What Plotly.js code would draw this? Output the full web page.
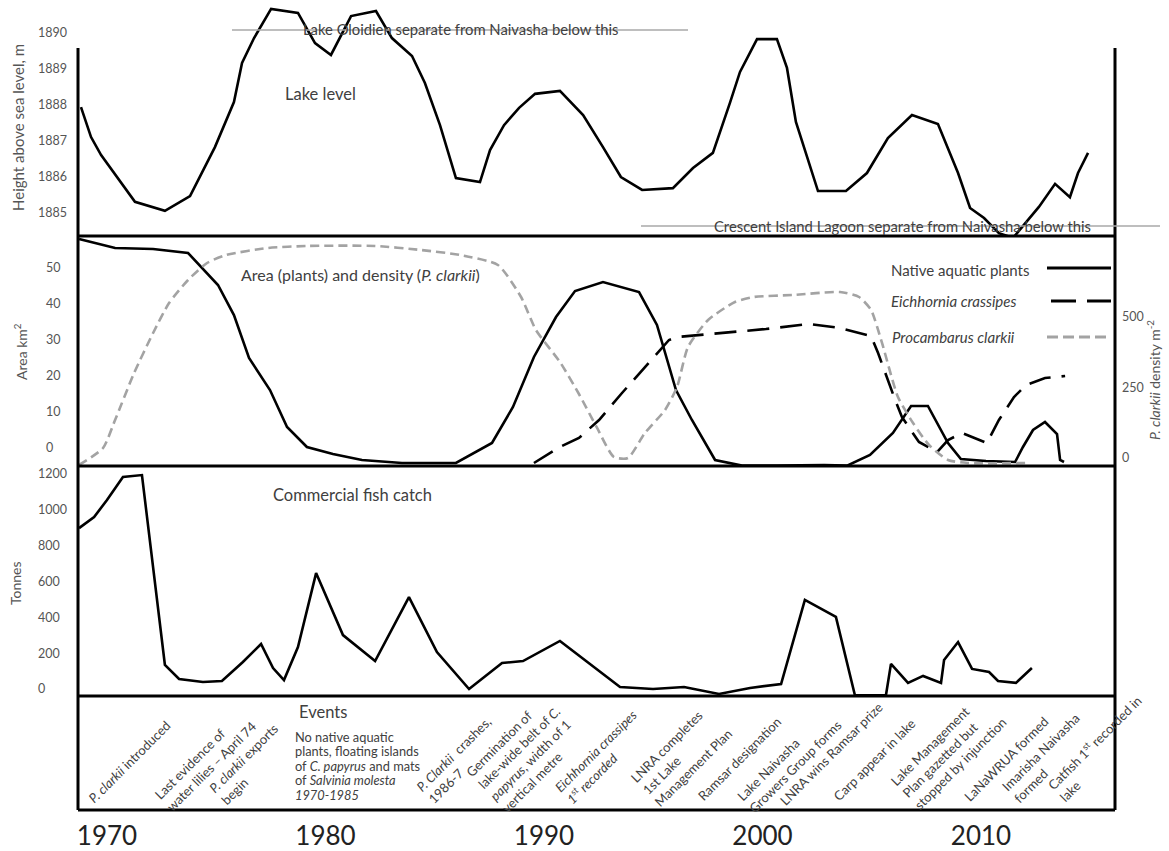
<!DOCTYPE html>
<html><head><meta charset="utf-8">
<script src="https://cdn.plot.ly/plotly-3.0.1.min.js"></script>
<style>html,body{margin:0;padding:0;background:#fff}#chart{width:1169px;height:851px}</style>
</head><body><div id="chart"></div>
<script>
// ---------------- DATA ----------------
const yearTicks = [1970, 1980, 1990, 2000, 2010];
const lakeTicks = [1885, 1886, 1887, 1888, 1889, 1890];
const areaTicks = [0, 10, 20, 30, 40, 50];
const densityTicks = [0, 250, 500];
const fishTicks = [0, 200, 400, 600, 800, 1000, 1200];

const lakeYear = [1968.81,1969.27,1969.73,1971.28,1972.65,1973.80,1974.94,1975.81,1976.18,1976.73,1977.51,1978.74,1979.52,1980.25,1981.17,1982.31,1983.04,1983.96,1984.55,1985.24,1985.97,1987.07,1987.53,1988.17,1988.86,1989.59,1990.73,1991.79,1992.70,1993.52,1994.49,1995.90,1996.82,1997.73,1998.51,1998.97,1999.75,2000.66,2001.12,2001.53,2002.54,2003.82,2004.78,2005.74,2006.84,2008.03,2008.95,2009.50,2010.14,2010.82,2011.47,2012.20,2012.65,2013.39,2014.07,2014.44,2014.90];
const lakeLevel = [1887.94,1887.11,1886.61,1885.31,1885.06,1885.47,1886.83,1888.08,1889.17,1889.86,1890.67,1890.56,1889.72,1889.39,1890.47,1890.61,1889.86,1889.36,1888.61,1887.44,1885.97,1885.86,1886.75,1887.44,1887.92,1888.31,1888.39,1887.72,1886.83,1886.00,1885.64,1885.69,1886.25,1886.67,1888.06,1888.92,1889.83,1889.83,1889.03,1887.53,1885.61,1885.61,1886.11,1887.08,1887.72,1887.47,1886.11,1885.14,1884.86,1884.44,1884.31,1884.86,1885.17,1885.81,1885.44,1886.11,1886.67];

const plantYear = [1968.72,1970.37,1972.11,1973.71,1975.08,1975.81,1976.50,1977.46,1978.24,1979.15,1980.34,1981.67,1983.50,1985.97,1987.62,1988.58,1989.54,1990.55,1991.42,1992.70,1994.35,1995.17,1996.04,1996.77,1997.83,1999.06,2000.66,2002.82,2003.87,2004.92,2005.97,2006.80,2007.57,2008.49,2009.08,2010.23,2011.56,2011.92,2012.38,2012.93,2013.48,2013.62,2013.80];
const plantArea = [58.06,55.56,55.28,54.17,45.28,36.94,25.00,16.11,5.83,0.28,-1.67,-3.33,-4.17,-4.17,1.39,11.39,25.28,36.39,43.61,46.11,43.33,34.17,16.11,7.78,-3.33,-4.9,-4.9,-4.72,-4.9,-1.94,4.17,11.67,11.67,1.39,-3.06,-3.61,-3.89,0.28,5.00,7.22,3.89,-3.33,-3.89];

const eichYear = [1989.54,1990.73,1991.60,1992.52,1993.57,1994.49,1995.72,1996.09,1998.19,2000.16,2002.13,2003.55,2004.97,2005.29,2006.02,2006.38,2007.16,2007.99,2008.49,2009.13,2010.27,2010.82,2011.51,2012.06,2012.93,2013.85];
const eichArea = [-4.17,0.28,2.78,7.78,15.28,21.67,30.00,30.83,31.94,33.06,34.44,33.33,31.11,26.39,14.17,8.61,1.67,-1.11,2.22,4.17,1.39,7.78,14.17,17.50,19.44,20.00];

const clarkiiYear = [1968.72,1969.82,1970.37,1971.24,1972.11,1972.84,1973.71,1974.58,1975.45,1977.37,1979.15,1982.27,1984.37,1986.16,1987.89,1988.95,1989.63,1990.73,1991.60,1992.43,1993.20,1993.84,1994.62,1995.54,1996.09,1996.59,1997.51,1998.74,1999.61,2001.40,2003.55,2004.42,2004.97,2005.47,2006.20,2006.89,2007.62,2008.49,2009.40,2012.06];
const clarkiiDensity = [-24.8,35.5,134.7,301.4,443.3,549.6,631.2,691.5,719.8,744.7,751.8,751.8,737.6,719.8,684.4,570.9,453.9,340.4,226.9,106.4,3.5,0,88.7,170.2,251.8,393.6,489.3,553.2,570.9,578.0,588.6,570.9,524.8,407.8,216.3,124.1,46.1,-7.1,-17.7,-17.7];

const fishYear = [1968.72,1969.41,1970.00,1970.73,1971.60,1972.65,1973.30,1974.39,1975.26,1976.22,1977.05,1977.60,1978.10,1978.74,1979.57,1980.80,1982.27,1983.82,1985.10,1986.57,1988.08,1989.04,1990.73,1993.48,1994.99,1996.41,1998.01,1999.43,2000.85,2001.94,2003.36,2004.23,2005.65,2005.88,2006.66,2007.35,2008.17,2008.31,2008.95,2009.59,2010.37,2010.78,2011.60,2012.33];
const fishTonnes = [898,960,1055,1183,1194,134,56,39,45,151,251,117,50,234,647,301,156,513,206,0,145,156,268,11,0,11,-28,6,28,497,402,-35,-35,140,34,73,34,162,262,112,95,45,34,117];

const eventLabels = [
  "<i>P. clarkii</i> introduced",
  "Last evidence of<br>water lilies \u2013 April 74",
  "<i>P. clarkii</i> exports<br>begin",
  "<i>P. Clarkii</i>  crashes,<br>1986-7",
  "Germination of<br>lake-wide belt of <i>C.</i><br><i>papyrus</i>, width of 1<br>vertical metre",
  "<i>Eichhornia crassipes</i><br><i>1<sup>st</sup> recorded</i>",
  "LNRA completes<br>1st Lake<br>Management Plan",
  "Ramsar designation",
  "Lake Naivasha<br>Growers Group forms",
  "LNRA wins Ramsar prize",
  "Carp appear in lake",
  "Lake Management<br>Plan gazetted but<br>stopped by injunction",
  "LaNaWRUA formed",
  "Imarisha Naivasha<br>formed",
  "Catfish 1<sup>st</sup> recorded in<br>lake"
];
const periodNoteLines = ["No native aquatic", "plants, floating islands", "of <i>C. papyrus</i> and mats", "of <i>Salvinia molesta</i>", "<i>1970-1985</i>"];
const seriesNames = ["Native aquatic plants", "<i>Eichhornia crassipes</i>", "<i>Procambarus clarkii</i>"];

// ---------------- LAYOUT HELPERS ----------------
const W = 1169, H = 851;
const px = x => x / W, py = y => 1 - y / H;
const FONT = 'Lato, "Open Sans", sans-serif';
const GREY_TXT = '#404040';
// event label centres (pixels)
const eventPos = [[129,762],[205,760],[249,764],[459,760],[525,753],[601,757],[681,756],[739,759],[789,760],[831,754],[874,760],[948,752],[1006,759],[1046,758],[1100,748]];

const L = 78, R = 1115;
const traces = [
  {x: lakeYear, y: lakeLevel, xaxis: 'x', yaxis: 'y', mode: 'lines', line: {color: '#000', width: 2.6}},
  {x: plantYear, y: plantArea, xaxis: 'x', yaxis: 'y2', mode: 'lines', line: {color: '#000', width: 2.6}},
  {x: eichYear, y: eichArea, xaxis: 'x', yaxis: 'y2', mode: 'lines', line: {color: '#000', width: 2.6, dash: '22px,11px'}},
  {x: clarkiiYear, y: clarkiiDensity, xaxis: 'x', yaxis: 'y3', mode: 'lines', line: {color: '#a3a3a3', width: 2.6, dash: '9px,5px', shape: 'spline', smoothing: 0.6}},
  {x: fishYear, y: fishTonnes, xaxis: 'x', yaxis: 'y4', mode: 'lines', line: {color: '#000', width: 2.6}}
];

const tickFont = {family: FONT, size: 12.5, color: '#555'};
const common = {showgrid: false, zeroline: false, showline: false, ticks: '', fixedrange: true};
const layout = {
  width: W, height: H, margin: {l: 0, r: 0, t: 0, b: 0},
  paper_bgcolor: '#fff', plot_bgcolor: 'rgba(0,0,0,0)', showlegend: false, hovermode: false,
  xaxis: Object.assign({}, common, {domain: [px(L), px(R)], range: [1968.673, 2016.133], anchor: 'free', position: py(810),
    tickvals: yearTicks, tickfont: {family: FONT, size: 26, color: '#222'}, ticklabelstandoff: 8}),
  yaxis: Object.assign({}, common, {domain: [py(236), 1], range: [1884.361, 1890.917], anchor: 'free', position: px(37), side: 'right',
    tickvals: lakeTicks, tickfont: tickFont}),
  yaxis2: Object.assign({}, common, {domain: [py(466), py(236)], range: [-5.0, 58.89], anchor: 'free', position: px(45), side: 'right',
    tickvals: areaTicks, tickfont: tickFont}),
  yaxis3: Object.assign({}, common, {overlaying: 'y2', side: 'right', anchor: 'x', range: [-28.4, 787.2],
    tickvals: densityTicks, tickfont: tickFont, ticklabelstandoff: 6}),
  yaxis4: Object.assign({}, common, {domain: [py(696), py(466)], range: [-39.1, 1244.7], anchor: 'free', position: px(37), side: 'right',
    tickvals: fishTicks, tickfont: tickFont}),
  shapes: [],
  annotations: []
};

const S = layout.shapes, A = layout.annotations;
function hline(y, x0, x1, color, width, dash) {
  S.push({type: 'line', xref: 'paper', yref: 'paper', x0: px(x0), x1: px(x1), y0: py(y), y1: py(y), line: {color: color, width: width, dash: dash || 'solid'}});
}
function vline(x, y0, y1) {
  S.push({type: 'line', xref: 'paper', yref: 'paper', x0: px(x), x1: px(x), y0: py(y0), y1: py(y1), line: {color: '#000', width: 3}});
}
function txt(text, x, y, o) {
  A.push(Object.assign({text: text, xref: 'paper', yref: 'paper', x: px(x), y: py(y), showarrow: false,
    xanchor: 'center', yanchor: 'middle', font: {family: FONT, size: 15, color: GREY_TXT}}, o || {}));
}

// frame
vline(L, 48, 810); vline(R, 48, 810);
[236, 466, 696, 810].forEach(y => hline(y, L, R, '#000', 3));
// separation reference lines
hline(30, 232, 688, '#a8a8a8', 1.5);
hline(226, 641, 1160, '#a8a8a8', 1.5);
// legend samples
hline(268, 1047, 1111, '#000', 3);
hline(301, 1051, 1111, '#000', 3, '25px,11px');
hline(337, 1047, 1111, '#a3a3a3', 3, '11px,5px');

txt('Lake Oloidien separate from Naivasha below this', 460, 29, {font: {family: FONT, size: 14.8, color: GREY_TXT}});
txt('Crescent Island Lagoon separate from Naivasha below this', 902, 226, {font: {family: FONT, size: 14.8, color: GREY_TXT}});
txt('Lake level', 320, 94, {font: {family: FONT, size: 16.5, color: GREY_TXT}});
txt('Area (plants) and density (<i>P. clarkii</i>)', 360, 275, {font: {family: FONT, size: 16, color: GREY_TXT}});
txt('Commercial fish catch', 352, 495, {font: {family: FONT, size: 16.5, color: GREY_TXT}});
txt(seriesNames[0], 889, 270, {xanchor: 'left'});
txt(seriesNames[1], 889, 301, {xanchor: 'left'});
txt(seriesNames[2], 890, 337, {xanchor: 'left'});
// axis titles
txt('Height above sea level, m', 18, 128, {textangle: -90, font: {family: FONT, size: 15, color: '#555'}});
txt('Area km<sup>2</sup>', 20, 352, {textangle: -90, font: {family: FONT, size: 14, color: '#555'}});
txt('Tonnes', 15, 583, {textangle: -90, font: {family: FONT, size: 14, color: '#555'}});
txt('<i>P. clarkii</i> density m<sup>-2</sup>', 1154, 380, {textangle: -90, font: {family: FONT, size: 14, color: '#555'}});
// events
txt('Events', 323, 712, {font: {family: FONT, size: 16.5, color: GREY_TXT}});
periodNoteLines.forEach((t, i) => txt(t, 293, 737 + i * 14.4, {xanchor: 'left', font: {family: FONT, size: 12.8, color: GREY_TXT}}));
eventLabels.forEach((t, i) => txt(t, eventPos[i][0], eventPos[i][1], {textangle: -45, align: 'left', font: {family: FONT, size: 13, color: GREY_TXT}}));

Plotly.newPlot('chart', traces, layout, {staticPlot: true, displayModeBar: false});
</script>
</body></html>
